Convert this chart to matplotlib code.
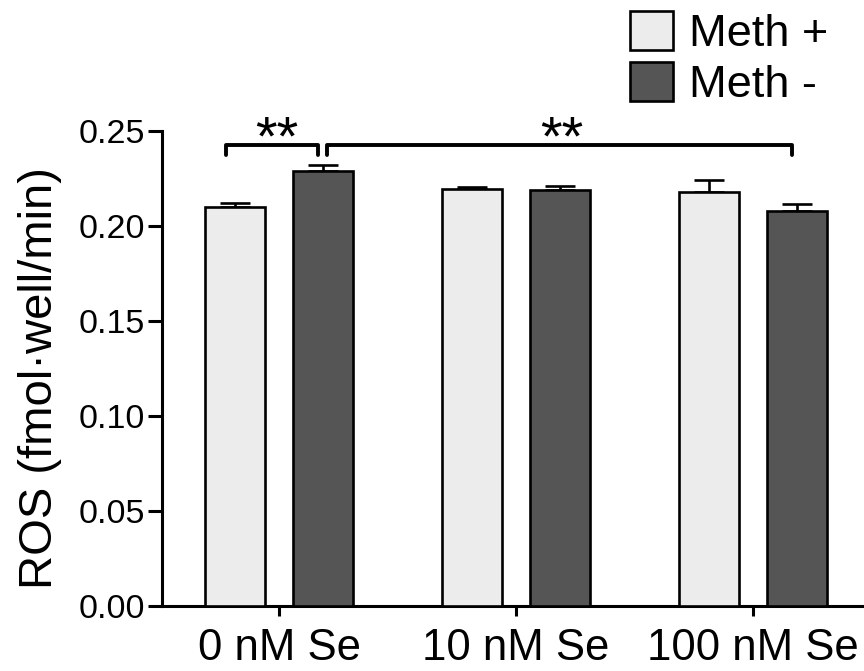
import matplotlib
matplotlib.use("Agg")
import matplotlib.pyplot as plt
import numpy as np
from matplotlib.patches import Patch

plt.rcParams['font.family'] = ['Liberation Sans', 'DejaVu Sans']

categories = ["0 nM Se", "10 nM Se", "100 nM Se"]
series_names = ["Meth +", "Meth -"]
meth_plus = [0.210, 0.2195, 0.218]
meth_plus_err = [0.002, 0.001, 0.006]
meth_minus = [0.229, 0.219, 0.208]
meth_minus_err = [0.003, 0.002, 0.0035]
yticks = [0.00, 0.05, 0.10, 0.15, 0.20, 0.25]

light = "#ececec"
dark = "#555555"

fig = plt.figure(figsize=(8.64, 6.71), dpi=100)
ax = fig.add_axes([0.1875, 0.0969, 0.8125, 0.7079])

x = np.arange(len(categories))
off = 0.186
w = 0.253
lw = 1.9
ax.bar(x - off, meth_plus, w, color=light, edgecolor="black", linewidth=lw, zorder=3)
ax.bar(x + off, meth_minus, w, color=dark, edgecolor="black", linewidth=lw, zorder=3)
ax.errorbar(x - off, meth_plus, yerr=[np.zeros(3), meth_plus_err], fmt="none",
            ecolor="black", elinewidth=lw, capsize=11, capthick=lw, zorder=2)
ax.errorbar(x + off, meth_minus, yerr=[np.zeros(3), meth_minus_err], fmt="none",
            ecolor="black", elinewidth=lw, capsize=11, capthick=lw, zorder=2)

ax.set_xlim(-0.494, 2.468)
ax.set_ylim(0, 0.25)
ax.set_yticks(yticks)
ax.set_yticklabels([f"{v:.2f}" for v in yticks], fontsize=24.5)
ax.set_xticks(x)
ax.set_xticklabels(categories, fontsize=31.5)
ax.set_ylabel("ROS (fmol·well/min)", fontsize=34)
ax.yaxis.set_label_coords(-0.143, 0.48)

for s in ["top", "right"]:
    ax.spines[s].set_visible(False)
for s in ["left", "bottom"]:
    ax.spines[s].set_linewidth(2.2)
ax.tick_params(axis="y", length=10, width=2.2, pad=2)
ax.tick_params(axis="x", length=7, width=2.2, pad=9)

# significance brackets
by = 0.2426
bd = 0.0052
blw = 2.8
star_y = 0.2374
x1, x2 = x[0] - off - 0.04, x[0] + off - 0.02
ax.plot([x1, x1, x2, x2], [by - bd, by, by, by - bd], color="black", lw=blw,
        clip_on=False, solid_capstyle="round", solid_joinstyle="round")
ax.text(x[0] - 0.01, star_y, "**", ha="center", va="baseline", fontsize=40)
x3, x4 = x[0] + off + 0.015, x[2] + off - 0.02
ax.plot([x3, x3, x4, x4], [by - bd, by, by, by - bd], color="black", lw=blw,
        clip_on=False, solid_capstyle="round", solid_joinstyle="round")
ax.text((x3 + x4) / 2 + 0.01, star_y, "**", ha="center", va="baseline", fontsize=40)

handles = [Patch(facecolor=light, edgecolor="black", linewidth=lw),
           Patch(facecolor=dark, edgecolor="black", linewidth=lw)]
fig.legend(handles, series_names, loc="upper left", bbox_to_anchor=(0.729, 0.983),
           frameon=False, fontsize=32.5, handlelength=0.95, handleheight=0.95,
           handletextpad=0.35, labelspacing=0.15, borderaxespad=0, borderpad=0)

fig.savefig("out.png", dpi=100)
